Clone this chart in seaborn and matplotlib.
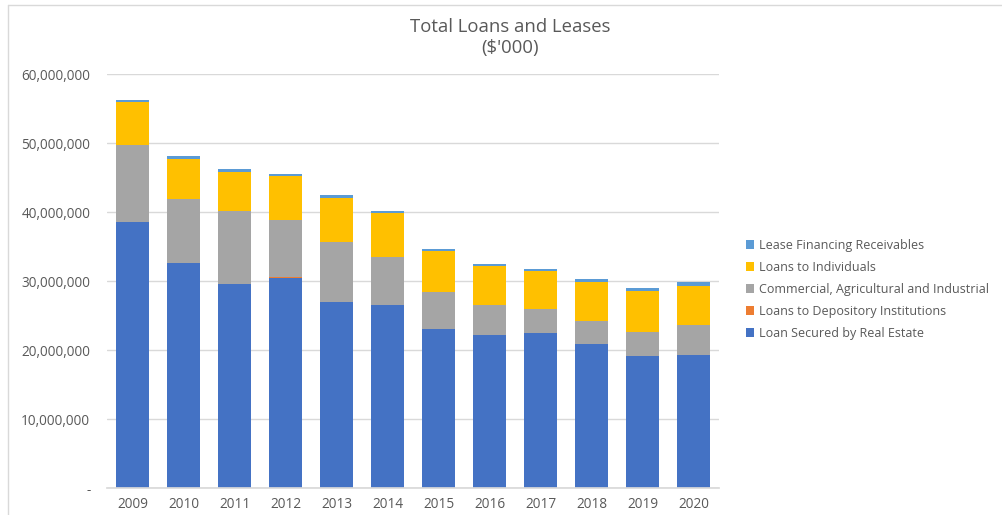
import matplotlib
matplotlib.use("Agg")
import matplotlib.pyplot as plt
from matplotlib.lines import Line2D
from matplotlib.patches import Patch
from matplotlib.ticker import FuncFormatter
import numpy as np
import pandas as pd
import seaborn as sns

# Total loans and leases by category, in $'000
years = ["2009", "2010", "2011", "2012", "2013", "2014",
         "2015", "2016", "2017", "2018", "2019", "2020"]
real_estate = [38_640_000, 32_600_000, 29_550_000, 30_500_000, 27_000_000, 26_550_000,
               23_100_000, 22_250_000, 22_450_000, 20_850_000, 19_200_000, 19_350_000]
depository = [20_000, 20_000, 20_000, 80_000, 20_000, 20_000,
              50_000, 20_000, 20_000, 20_000, 20_000, 20_000]
commercial = [11_090_000, 9_350_000, 10_650_000, 8_300_000, 8_680_000, 6_950_000,
              5_250_000, 4_330_000, 3_520_000, 3_380_000, 3_480_000, 4_340_000]
individuals = [6_250_000, 5_730_000, 5_670_000, 6_380_000, 6_400_000, 6_380_000,
               5_950_000, 5_660_000, 5_460_000, 5_650_000, 5_940_000, 5_650_000]
lease = [300_000, 500_000, 370_000, 340_000, 360_000, 330_000,
         330_000, 240_000, 290_000, 430_000, 430_000, 540_000]

series_names = ["Loan Secured by Real Estate", "Loans to Depository Institutions",
                "Commercial, Agricultural and Industrial", "Loans to Individuals",
                "Lease Financing Receivables"]
series_values = [real_estate, depository, commercial, individuals, lease]
series_colors = ["#4472C4", "#ED7D31", "#A5A5A5", "#FFC000", "#5B9BD5"]

sns.set_theme(style="white")
plt.rcParams["font.family"] = ["Open Sans", "DejaVu Sans"]

fig = plt.figure(figsize=(10.02, 5.15), dpi=100)
ax = fig.add_axes([0.1068, 0.0518, 0.6108, 0.8039])

df = pd.DataFrame(dict(zip(series_names, series_values)), index=years)
cum = df.cumsum(axis=1)

# Stacked bars: draw cumulative totals from the top segment down
for name, color in reversed(list(zip(series_names, series_colors))):
    sns.barplot(x=years, y=cum[name].values, color=color, width=0.65,
                saturation=1, ax=ax, edgecolor="none", linewidth=0)

ax.set_ylim(0, 60_000_000)
ax.set_xlim(-0.5, len(years) - 0.5)
ax.set_yticks(np.arange(0, 60_000_001, 10_000_000))
ax.yaxis.set_major_formatter(FuncFormatter(lambda v, p: "-" if v == 0 else f"{int(v):,}"))
ax.grid(axis="y", color="#D9D9D9", linewidth=1)
ax.set_axisbelow(True)
for s in ["top", "right", "left"]:
    ax.spines[s].set_visible(False)
ax.spines["bottom"].set_color("#D9D9D9")
ax.tick_params(axis="both", length=0, colors="#595959", labelsize=9.8)
ax.tick_params(axis="y", pad=12)
ax.tick_params(axis="x", pad=6)
ax.set_xlabel("")
ax.set_ylabel("")

fig.text(0.509, 0.948, "Total Loans and Leases", ha="center", va="center",
         fontsize=13.3, color="#595959")
fig.text(0.509, 0.907, "($'000)", ha="center", va="center",
         fontsize=13.3, color="#595959")

handles = [Patch(facecolor=c, edgecolor="none") for c in series_colors]
leg = fig.legend(list(reversed(handles)), list(reversed(series_names)),
                 loc="center left", bbox_to_anchor=(0.733, 0.438), frameon=False,
                 fontsize=9, labelcolor="#595959", handlelength=0.7, handleheight=0.7,
                 handletextpad=0.4, labelspacing=0.72)

# chart frame edges
fig.add_artist(Line2D([0.008, 1.0], [0.990, 0.990], transform=fig.transFigure,
                      color="#D9D9D9", linewidth=1))
fig.add_artist(Line2D([0.008, 0.008], [0.0, 0.990], transform=fig.transFigure,
                      color="#D9D9D9", linewidth=1))

fig.savefig("out.png", dpi=100)
